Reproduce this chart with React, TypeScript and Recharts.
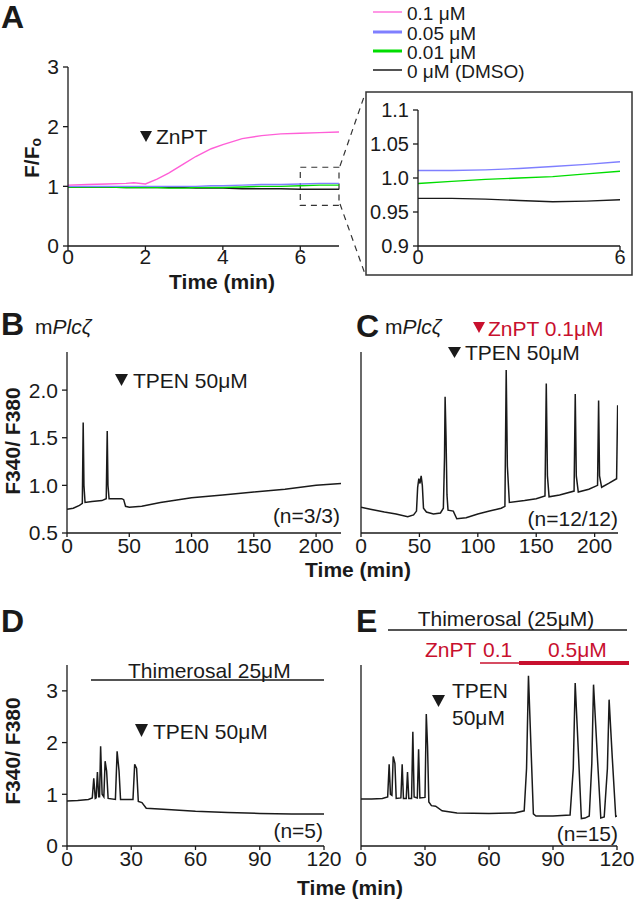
import React from 'react'
import { LineChart, Line, XAxis, YAxis, ReferenceArea } from 'recharts'

const FONT = '"Liberation Sans", Arial, sans-serif'
const INK = '#1a1a1a'
const RED = '#c8102e'
const PINK = '#ff5fd7'
const BLUE = '#7f7fff'
const GREEN = '#00dd00'

// A: ZnPT dose response (F/F0)
const aTime = [0, 0.5, 1, 1.5, 1.7, 2, 2.3, 2.6, 3, 3.3, 3.7, 4, 4.5, 5, 5.5, 6, 6.5, 7]
const aPink = [1.02, 1.03, 1.04, 1.05, 1.06, 1.04, 1.12, 1.22, 1.38, 1.5, 1.63, 1.7, 1.8, 1.85, 1.88, 1.89, 1.9, 1.91]
const aBlue = [1.0, 1.0, 1.0, 1.0, 1.0, 1.0, 1.0, 1.0, 1.0, 1.0, 1.01, 1.01, 1.02, 1.03, 1.03, 1.04, 1.05, 1.05]
const aGreen = [0.99, 0.99, 0.99, 0.98, 0.98, 0.98, 0.98, 0.97, 0.97, 0.98, 0.98, 0.98, 0.99, 1.0, 1.0, 1.01, 1.02, 1.02]
const aBlack = [0.99, 0.99, 0.99, 0.98, 0.98, 0.98, 0.98, 0.98, 0.98, 0.97, 0.97, 0.97, 0.96, 0.96, 0.96, 0.95, 0.95, 0.95]
const aXTicks = [0, 2, 4, 6]
const aYTicks = [0, 1, 2, 3]

// A inset
const insetTime = [0, 1, 2, 3, 4, 5, 6]
const insetBlue = [1.011, 1.011, 1.012, 1.014, 1.017, 1.02, 1.024]
const insetGreen = [0.992, 0.995, 0.998, 1.0, 1.002, 1.006, 1.01]
const insetBlack = [0.97, 0.97, 0.969, 0.967, 0.965, 0.966, 0.968]
const insetYTicks = [0.9, 0.95, 1.0, 1.05, 1.1]
const insetYLabels = ['0.9', '0.95', '1.0', '1.05', '1.1']

// B: mPlcz + TPEN
const bTime = [0, 5, 10, 12.3, 13, 13.6, 14.5, 20, 28, 31.5, 32.3, 32.9, 33.8, 38, 44, 45.5, 47, 50, 60, 75, 100, 125, 150, 175, 200, 220]
const bRatio = [0.75, 0.76, 0.79, 0.81, 1.66, 1.0, 0.82, 0.83, 0.84, 0.86, 1.57, 1.0, 0.86, 0.86, 0.86, 0.85, 0.78, 0.77, 0.78, 0.82, 0.87, 0.9, 0.93, 0.96, 1.0, 1.02]

// C: mPlcz + TPEN + ZnPT
const cTime = [0, 8, 20, 30, 40, 45, 47.5, 48.5, 49.5, 50.5, 51.5, 52.5, 53.5, 56, 62, 68, 70.5, 71.5, 72, 72.8, 73.6, 74.5, 79, 82, 90, 100, 110, 120, 123.2, 124.3, 125.3, 127, 140, 150, 157.5, 158.6, 159.6, 161, 170, 182.4, 183.4, 184.3, 186, 195, 202.5, 203.4, 204.2, 206, 212, 218.8, 219.7]
const cRatio = [0.77, 0.75, 0.72, 0.7, 0.67, 0.69, 0.73, 0.98, 1.07, 1.02, 1.1, 1.0, 0.76, 0.72, 0.7, 0.71, 0.76, 1.3, 1.93, 1.5, 0.9, 0.74, 0.73, 0.65, 0.66, 0.7, 0.73, 0.76, 0.78, 2.21, 1.2, 0.82, 0.84, 0.86, 0.89, 2.07, 1.1, 0.88, 0.9, 0.94, 1.96, 1.1, 0.93, 0.96, 1.0, 1.89, 1.1, 0.98, 1.02, 1.07, 1.84]
const bcXTicks = [0, 50, 100, 150, 200]
const bcYTicks = [0.5, 1.0, 1.5, 2.0]

// D: thimerosal + TPEN
const dTime = [0, 5, 10, 11.8, 12.5, 13.2, 13.6, 14.2, 14.8, 15.2, 15.7, 16.4, 17.2, 17.8, 18.5, 19.2, 22.6, 23.4, 24.3, 25, 30.8, 31.6, 32.5, 33.3, 35, 37, 45, 60, 75, 90, 105, 120]
const dRatio = [0.87, 0.88, 0.9, 0.93, 1.31, 0.92, 0.93, 1.43, 0.95, 0.95, 1.93, 1.0, 0.95, 1.64, 1.45, 0.92, 0.9, 1.83, 1.45, 0.9, 0.9, 1.58, 1.5, 0.86, 0.84, 0.73, 0.71, 0.67, 0.65, 0.63, 0.62, 0.62]

// E: thimerosal + TPEN + ZnPT
const eTime = [0, 5, 10, 12.5, 13.2, 13.8, 14.5, 15.1, 15.9, 16.5, 18.7, 19.3, 19.9, 21.2, 21.8, 22.4, 23.7, 24.3, 24.9, 26.4, 27, 27.6, 30, 30.6, 31.2, 31.8, 33, 35, 38, 45, 60, 72, 76.5, 77.6, 78.5, 79.6, 80.8, 82, 90, 98, 99.5, 100.4, 101.8, 103.3, 105, 107, 108.2, 109, 110.7, 112.4, 114, 115.5, 116.3, 117.8, 119.4, 120]
const eRatio = [0.91, 0.91, 0.92, 0.95, 1.58, 1.0, 0.98, 1.73, 1.6, 0.92, 0.93, 1.58, 0.92, 0.92, 1.43, 0.92, 0.92, 2.21, 0.95, 0.93, 1.87, 0.93, 0.94, 2.55, 1.92, 0.85, 0.78, 0.77, 0.68, 0.64, 0.63, 0.64, 0.68, 1.5, 3.29, 2.0, 0.62, 0.58, 0.58, 0.6, 1.5, 3.15, 1.9, 0.53, 0.54, 0.58, 1.6, 3.12, 1.8, 0.54, 0.56, 1.5, 2.83, 1.7, 0.57, 0.58]
const deXTicks = [0, 30, 60, 90, 120]
const deYTicks = [0, 1, 2, 3]

const legendItems = [
  { label: '0.1 μM', color: PINK, width: 1.3 },
  { label: '0.05 μM', color: BLUE, width: 3 },
  { label: '0.01 μM', color: GREEN, width: 3 },
  { label: '0 μM (DMSO)', color: INK, width: 1.5 },
]

const aData = aTime.map((t, i) => ({ t, pink: aPink[i], blue: aBlue[i], green: aGreen[i], black: aBlack[i] }))
const insetData = insetTime.map((t, i) => ({ t, blue: insetBlue[i], green: insetGreen[i], black: insetBlack[i] }))
const bData = bTime.map((t, i) => ({ t, v: bRatio[i] }))
const cData = cTime.map((t, i) => ({ t, v: cRatio[i] }))
const dData = dTime.map((t, i) => ({ t, v: dRatio[i] }))
const eData = eTime.map((t, i) => ({ t, v: eRatio[i] }))

const YW = 62, MT = 16, MR = 26, XH = 30, MB = 2

type Series = { key: string; color: string; width?: number }

function Trace(props: {
  x: number; y: number; w: number; h: number
  data: any[]; series: Series[]
  xDomain: number[]; xTicks: number[]; yDomain: number[]; yTicks: number[]
  yFmt?: (v: number, i: number) => string
  showY?: boolean; fontSize?: number; xTickMargin?: number
  children?: React.ReactNode
}) {
  const { x, y, w, h, data, series, xDomain, xTicks, yDomain, yTicks, yFmt, showY = true, fontSize = 21, xTickMargin = 1, children } = props
  const tickStyle = { fontSize, fill: INK, fontFamily: FONT }
  const lineStyle = { stroke: INK, strokeWidth: 1.3 }
  return (
    <div style={{ position: 'absolute', left: x - YW, top: y - MT }}>
      <LineChart width={YW + w + MR} height={MT + h + XH + MB} data={data} margin={{ top: MT, right: MR, bottom: MB, left: 0 }}>
        <XAxis dataKey="t" type="number" domain={xDomain} ticks={xTicks} interval={0} allowDataOverflow
          height={XH} tickSize={4} tickMargin={xTickMargin} axisLine={lineStyle} tickLine={lineStyle} tick={tickStyle} />
        <YAxis type="number" domain={yDomain} ticks={yTicks} interval={0} allowDataOverflow
          width={YW} tickSize={5} tickMargin={4} axisLine={lineStyle} tickLine={lineStyle}
          tick={showY ? tickStyle : false} tickFormatter={yFmt} />
        {series.map(s => (
          <Line key={s.key} dataKey={s.key} type="linear" stroke={s.color} strokeWidth={s.width ?? 1.4}
            dot={false} isAnimationActive={false} />
        ))}
        {children}
      </LineChart>
    </div>
  )
}

const tri = (x: number, y: number, w: number, h: number) => `${x},${y} ${x + w},${y} ${x + w / 2},${y + h}`

function Overlay() {
  const t = { fontFamily: FONT, fill: INK, dominantBaseline: 'central' as const }
  const letter = { ...t, fontSize: 32, fontWeight: 700 }
  const note = { ...t, fontSize: 21 }
  const legend = { ...t, fontSize: 19 }
  const title = { ...t, fontSize: 21, fontWeight: 700 }
  return (
    <svg width={636} height={899} style={{ position: 'absolute', left: 0, top: 0, pointerEvents: 'none' }}>
      {/* A */}
      <text x={1} y={17} {...letter}>A</text>
      <text transform="translate(31,158) rotate(-90)" textAnchor="middle" {...title}>F/F<tspan fontSize={14} dy={5}>o</tspan></text>
      <text x={222} y={281} textAnchor="middle" {...title}>Time (min)</text>
      <polygon points={tri(140, 131, 12, 11)} fill={INK} />
      <text x={156} y={136} {...note}>ZnPT</text>
      {legendItems.map((it, i) => {
        const yy = [12, 32, 51, 70][i]
        return (
          <g key={it.label}>
            <line x1={373} x2={402} y1={yy} y2={yy} stroke={it.color} strokeWidth={it.width} />
            <text x={407} y={yy + 1} {...legend}>{it.label}</text>
          </g>
        )
      })}
      <rect x={366} y={92} width={266} height={183} fill="none" stroke="#333" strokeWidth={1.5} />
      <line x1={340} y1={166} x2={365} y2={94} stroke="#333" strokeWidth={1.2} strokeDasharray="6 5" />
      <line x1={340} y1={204} x2={365} y2={274} stroke="#333" strokeWidth={1.2} strokeDasharray="6 5" />

      {/* B */}
      <text x={1} y={324} {...letter}>B</text>
      <text x={35} y={326} {...note}>m<tspan fontStyle="italic">Plcζ</tspan></text>
      <polygon points={tri(115, 374, 13, 12)} fill={INK} />
      <text x={133} y={380} {...note}>TPEN 50μM</text>
      <text x={340} y={515} textAnchor="end" {...note}>(n=3/3)</text>
      <text transform="translate(12,441) rotate(-90)" textAnchor="middle" {...title}>F340/ F380</text>
      <text x={358} y={569} textAnchor="middle" {...title}>Time (min)</text>

      {/* C */}
      <text x={356} y={326} {...letter}>C</text>
      <text x={385} y={326} {...note}>m<tspan fontStyle="italic">Plcζ</tspan></text>
      <polygon points={tri(473, 322, 12, 11)} fill={RED} />
      <text x={488} y={328} {...note} fill={RED}>ZnPT 0.1μM</text>
      <polygon points={tri(448, 347, 13, 11)} fill={INK} />
      <text x={465} y={352} {...note}>TPEN 50μM</text>
      <text x={618} y={518} textAnchor="end" {...note}>(n=12/12)</text>

      {/* D */}
      <text x={1} y={621} {...letter}>D</text>
      <text x={128} y={670} {...note}>Thimerosal 25μM</text>
      <line x1={91} x2={324} y1={680} y2={680} stroke={INK} strokeWidth={1.3} />
      <polygon points={tri(135, 724, 13, 13)} fill={INK} />
      <text x={153} y={731} {...note}>TPEN 50μM</text>
      <text x={323} y={830} textAnchor="end" {...note}>(n=5)</text>
      <text transform="translate(12,751) rotate(-90)" textAnchor="middle" {...title}>F340/ F380</text>
      <text x={350} y={887} textAnchor="middle" {...title}>Time (min)</text>

      {/* E */}
      <text x={356} y={621} {...letter}>E</text>
      <text x={506} y={618} textAnchor="middle" {...note}>Thimerosal (25μM)</text>
      <line x1={388} x2={627} y1={630} y2={630} stroke={INK} strokeWidth={1.3} />
      <text x={425} y={649} {...note} fill={RED}>ZnPT</text>
      <text x={483} y={649} {...note} fill={RED}>0.1</text>
      <text x={548} y={649} {...note} fill={RED}>0.5μM</text>
      <line x1={480} x2={520} y1={663} y2={663} stroke={RED} strokeWidth={1.5} />
      <line x1={519} x2={629} y1={663} y2={663} stroke={RED} strokeWidth={4} />
      <polygon points={tri(432, 695, 13, 12)} fill={INK} />
      <text x={452} y={690} {...note}>TPEN</text>
      <text x={452} y={717} {...note}>50μM</text>
      <text x={618} y={833} textAnchor="end" {...note}>(n=15)</text>
    </svg>
  )
}

export default function App() {
  return (
    <div style={{ position: 'absolute', left: 0, top: 0, width: 636, height: 899, background: '#fff', overflow: 'hidden', fontFamily: FONT }}>
      <Trace x={68} y={67} w={271} h={179} data={aData} xDomain={[0, 7]} xTicks={aXTicks} yDomain={[0, 3]} yTicks={aYTicks} xTickMargin={-1}
        series={[
          { key: 'black', color: INK, width: 1.4 },
          { key: 'green', color: GREEN, width: 1.4 },
          { key: 'blue', color: BLUE, width: 1.4 },
          { key: 'pink', color: PINK, width: 1.4 },
        ]}>
        <ReferenceArea x1={6} x2={7} y1={0.68} y2={1.32} fill="none" stroke="#333" strokeWidth={1.2} strokeDasharray="6 5" ifOverflow="visible" />
      </Trace>
      <Trace x={418} y={110} w={202} h={136} data={insetData} xDomain={[0, 6]} xTicks={[0, 6]} yDomain={[0.9, 1.1]} yTicks={insetYTicks}
        yFmt={(v, i) => insetYLabels[i]} fontSize={20} xTickMargin={0}
        series={[
          { key: 'black', color: INK, width: 1.4 },
          { key: 'green', color: GREEN, width: 1.4 },
          { key: 'blue', color: BLUE, width: 1.4 },
        ]} />
      <Trace x={67} y={352} w={274} h={181} data={bData} xDomain={[0, 220]} xTicks={bcXTicks} yDomain={[0.5, 2.4]} yTicks={bcYTicks}
        yFmt={v => v.toFixed(1)} series={[{ key: 'v', color: INK, width: 1.5 }]} />
      <Trace x={361} y={352} w={257} h={181} data={cData} xDomain={[0, 220]} xTicks={bcXTicks} yDomain={[0.5, 2.4]} yTicks={bcYTicks}
        showY={false} series={[{ key: 'v', color: INK, width: 1.5 }]} />
      <Trace x={67} y={665} w={257} h={181} data={dData} xDomain={[0, 120]} xTicks={deXTicks} yDomain={[0, 3.5]} yTicks={deYTicks}
        series={[{ key: 'v', color: INK, width: 1.5 }]} />
      <Trace x={361} y={665} w={256} h={181} data={eData} xDomain={[0, 120]} xTicks={deXTicks} yDomain={[0, 3.5]} yTicks={deYTicks}
        showY={false} series={[{ key: 'v', color: INK, width: 1.5 }]} />
      <Overlay />
    </div>
  )
}
